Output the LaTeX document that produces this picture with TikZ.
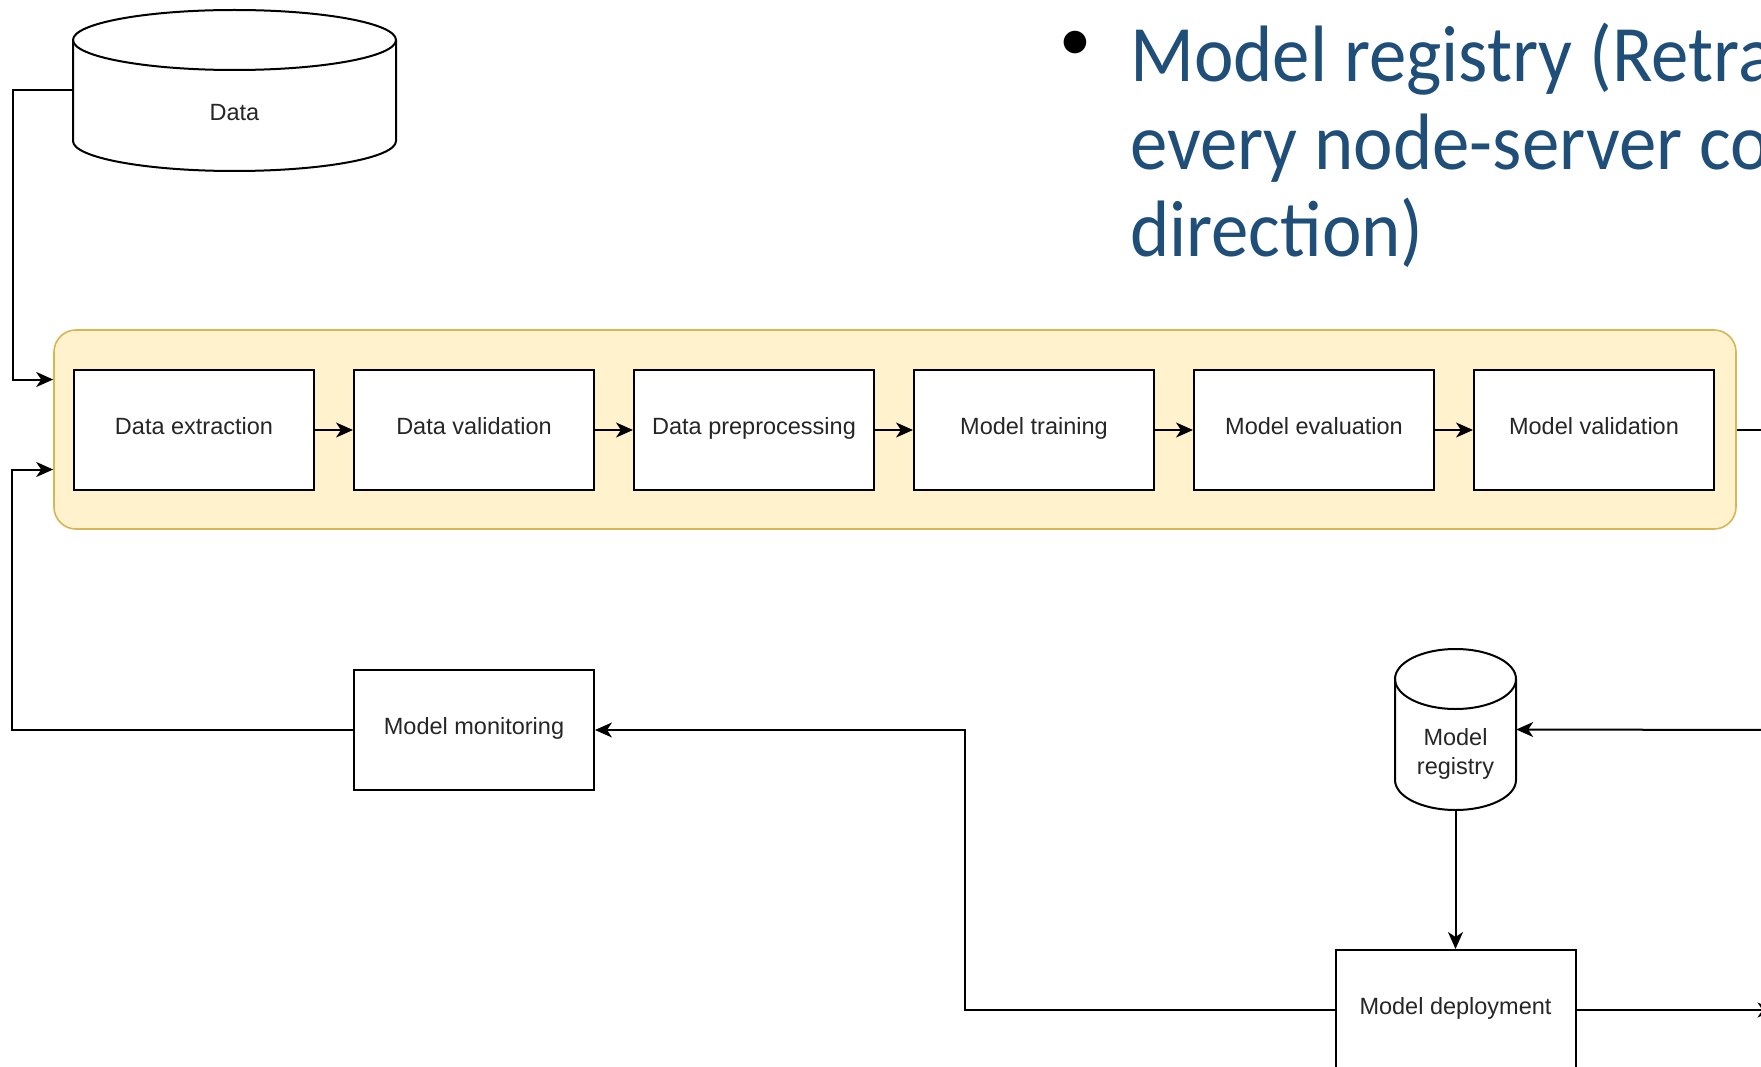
\documentclass[tikz,border=0pt]{standalone}
\usepackage{fontspec}
\setmainfont{Liberation Sans}
\newfontfamily\slidefont[FakeStretch=0.935]{Carlito}
\newfontfamily\bulletfont{Carlito}
\usetikzlibrary{arrows.meta}
\definecolor{slideblue}{HTML}{1F4E79}
\definecolor{stagefill}{HTML}{FFF2CC}
\definecolor{stageline}{HTML}{D6B656}
\definecolor{labelgrey}{HTML}{262626}
\newcommand\boxlabelfont{\fontsize{23.5}{28.2}\selectfont}
\newcommand\slidetextfont{\slidefont\fontsize{80}{87.5}\selectfont}

\begin{document}
\begin{tikzpicture}[x=1pt,y=1pt,
  edge/.style={line width=2pt, draw=black},
  conn/.style={line width=2pt, draw=black, -{Stealth[length=17pt,width=15pt,inset=5pt]}},
  stepbox/.style={draw=black, line width=2pt, fill=white, minimum width=240pt,
    minimum height=120pt, inner sep=0pt, font=\boxlabelfont, text=labelgrey,
    text height=17pt, text depth=9pt},
  holder/.style={draw=none, inner sep=0pt},
  cylabel/.style={font=\boxlabelfont, text=labelgrey, align=center, inner sep=0pt},
  stage/.style={draw=stageline, fill=stagefill, line width=1.6pt, rounded corners=22pt,
    minimum width=1682pt, minimum height=199pt, inner sep=0pt},
  slideline/.style={font=\slidetextfont, text=slideblue, anchor=base west, inner sep=0pt}
]
\useasboundingbox (0,0) rectangle (1761,-1067);
\clip (0,0) rectangle (1761,-1067);
\fill[white] (0,0) rectangle (1761,-1067);

% slide bullet text
\node[font=\bulletfont\fontsize{64}{64}\selectfont, inner sep=0pt] (dot) at (1075,-46) {•};
\node[slideline] (l1) at (1130,-82) {Model registry (Retra};
\node[slideline] (l2) at (1130,-169.5) {every node-server co};
\node[slideline] (l3) at (1130,-257) {direction)};

% data store
\node[holder, minimum width=323pt, minimum height=161pt] (data) at (234.5,-90.5) {};
\draw[edge, fill=white] (73,-40) -- (73,-141)
  arc[start angle=180, end angle=360, x radius=161.5, y radius=30] -- (396,-40)
  arc[start angle=0, end angle=180, x radius=161.5, y radius=30] -- cycle;
\draw[edge] (73,-40) arc[start angle=180, end angle=360, x radius=161.5, y radius=30];
\node[cylabel] (datalabel) at (234.5,-113) {Data};

% pipeline stage
\node[stage] (pipe) at (895,-429.5) {};
\node[stepbox] (s1) at (194,-430) {Data extraction};
\node[stepbox] (s2) at (474,-430) {Data validation};
\node[stepbox] (s3) at (754,-430) {Data preprocessing};
\node[stepbox] (s4) at (1034,-430) {Model training};
\node[stepbox] (s5) at (1314,-430) {Model evaluation};
\node[stepbox] (s6) at (1594,-430) {Model validation};
\foreach \a/\b in {s1/s2,s2/s3,s3/s4,s4/s5,s5/s6}
  \draw[conn] (\a.east) -- (\b.west);
\draw[edge] (pipe.east) -- ++(40,0);

% model registry
\node[holder, minimum width=121pt, minimum height=161pt] (reg) at (1455.5,-729.5) {};
\draw[edge, fill=white] (1395,-679) -- (1395,-780)
  arc[start angle=180, end angle=360, x radius=60.5, y radius=30] -- (1516,-679)
  arc[start angle=0, end angle=180, x radius=60.5, y radius=30] -- cycle;
\draw[edge] (1395,-679) arc[start angle=180, end angle=360, x radius=60.5, y radius=30];
\node[cylabel] (reglabel) at (1455.5,-754) {Model\\registry};

% monitoring and deployment
\node[stepbox] (mon) at (474,-730) {Model monitoring};
\node[stepbox] (dep) at (1455.5,-1010) {Model deployment};

% connectors
\coordinate (regin) at (1775,-730);
\draw[conn] (data.west) -- ++(-60,0) |- ([yshift=50pt]pipe.west);
\draw[conn] (mon.west) -- ++(-341,0) |- ([yshift=-40pt]pipe.west);
\draw[conn] (regin) -- (reg.east);
\draw[conn] (reg.south) -- (dep.north);
\draw[conn] (dep.west) -- ++(-370,0) |- (mon.east);
\draw[conn] (dep.east) -- ++(198,0);
\end{tikzpicture}
\end{document}
